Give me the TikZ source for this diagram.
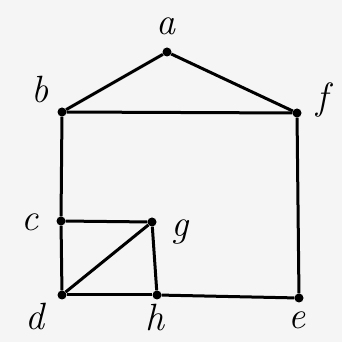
\documentclass[tikz,border=0pt]{standalone}
\begin{document}
\begin{tikzpicture}[x=1pt,y=1pt,
  vtx/.style={circle,fill=black,inner sep=0pt,minimum size=9pt},
  lbl/.style={font=\fontsize{38}{38}\selectfont\itshape,inner sep=0pt},
  edge/.style={line width=3pt}]
\fill[black!4] (0,0) rectangle (342,342);
\useasboundingbox (0,0) rectangle (342,342);
\node[vtx] (a) at (167,290) {};
\node[vtx] (b) at (62,230) {};
\node[vtx] (f) at (297,229) {};
\node[vtx] (c) at (61,121) {};
\node[vtx] (g) at (152,120) {};
\node[vtx] (d) at (62,47) {};
\node[vtx] (h) at (157,47) {};
\node[vtx] (e) at (299,44) {};
\node[lbl] (la) at (166,316) {a};
\node[lbl] (lb) at (40,252) {b};
\node[lbl] (lf) at (322,242) {f};
\node[lbl] (lc) at (30,120) {c};
\node[lbl] (lg) at (180,110) {g};
\node[lbl] (ld) at (35,25) {d};
\node[lbl] (lh) at (155,24) {h};
\node[lbl] (le) at (297,22) {e};
\draw[edge] (a) -- (b);
\draw[edge] (a) -- (f);
\draw[edge] (b) -- (f);
\draw[edge] (b) -- (c);
\draw[edge] (c) -- (d);
\draw[edge] (c) -- (g);
\draw[edge] (g) -- (h);
\draw[edge] (d) -- (g);
\draw[edge] (d) -- (h);
\draw[edge] (h) -- (e);
\draw[edge] (f) -- (e);
\end{tikzpicture}
\end{document}
